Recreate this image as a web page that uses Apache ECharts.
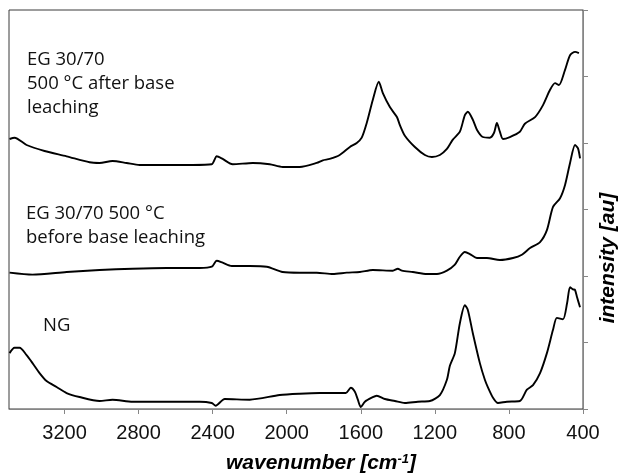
<!DOCTYPE html>
<html>
<head>
<meta charset="utf-8">
<script src="https://cdn.jsdelivr.net/npm/echarts@6/dist/echarts.min.js"></script>
<style>
html,body{margin:0;padding:0;background:#fff;}
#chart{width:619px;height:474px;}
</style>
</head>
<body>
<div id="chart"></div>
<script>
// x tick labels (wavenumber, cm-1)
const xTicks = [400, 800, 1200, 1600, 2000, 2400, 2800, 3200];
// EG 30/70 500 °C after base leaching
const waveA = [3497,3470,3405,3308,3189,3065,3011,2941,2865,2795,2649,2508,2405,2378,2346,2292,2184,2092,2022,1930,1838,1805,1768,1714,1659,1622,1595,1568,1535,1503,1481,1443,1405,1389,1362,1308,1254,1216,1173,1135,1103,1065,1038,1022,995,973,941,903,881,865,849,832,795,741,714,659,616,578,551,530,497,470,443,422];
const intenA = [4.06,4.08,3.97,3.88,3.80,3.71,3.70,3.73,3.70,3.67,3.67,3.67,3.68,3.80,3.76,3.68,3.70,3.68,3.64,3.64,3.70,3.74,3.76,3.82,3.94,4.00,4.08,4.30,4.65,4.92,4.75,4.54,4.39,4.27,4.11,3.94,3.82,3.79,3.82,3.91,4.05,4.17,4.42,4.47,4.35,4.20,4.09,4.08,4.15,4.30,4.17,4.06,4.09,4.17,4.29,4.39,4.57,4.80,4.90,4.87,5.10,5.32,5.37,5.35];
// EG 30/70 500 °C before base leaching
const waveB = [3497,3373,3189,3011,2832,2649,2470,2405,2378,2346,2297,2200,2108,2022,1930,1838,1751,1676,1605,1535,1427,1400,1378,1319,1243,1189,1135,1092,1065,1038,1011,973,919,849,778,730,686,632,595,562,524,497,470,443,427,416];
const intenB = [2.05,2.02,2.06,2.09,2.11,2.12,2.12,2.14,2.23,2.20,2.15,2.15,2.14,2.06,2.05,2.05,2.03,2.05,2.06,2.09,2.08,2.11,2.08,2.06,2.03,2.03,2.08,2.17,2.29,2.36,2.33,2.27,2.27,2.24,2.27,2.32,2.42,2.51,2.69,3.04,3.17,3.37,3.70,3.97,3.92,3.77];
// NG
const waveC = [3497,3470,3443,3405,3373,3335,3297,3243,3189,3119,3011,2941,2832,2649,2470,2405,2384,2335,2200,2038,1930,1822,1724,1681,1654,1632,1616,1600,1578,1541,1514,1470,1416,1362,1292,1227,1173,1135,1119,1092,1065,1038,1022,995,957,930,914,886,859,811,741,703,670,632,595,562,541,508,486,470,454,443,432,416];
const intenC = [0.84,0.92,0.92,0.81,0.69,0.54,0.42,0.33,0.24,0.18,0.12,0.14,0.11,0.11,0.11,0.09,0.05,0.15,0.14,0.21,0.23,0.24,0.24,0.24,0.32,0.26,0.14,0.03,0.11,0.17,0.20,0.15,0.12,0.09,0.11,0.12,0.21,0.44,0.65,0.84,1.29,1.56,1.49,1.14,0.69,0.44,0.33,0.17,0.09,0.11,0.12,0.29,0.36,0.54,0.84,1.19,1.37,1.35,1.59,1.83,1.80,1.79,1.68,1.53];

const labelA = ['EG 30/70', '500 °C after base', 'leaching'];
const labelB = ['EG 30/70 500 °C', 'before base leaching'];
const labelC = ['NG'];

function pairs(xs, ys){ return xs.map((x,i)=>[x, ys[i]]); }

const chart = echarts.init(document.getElementById('chart'), null, {renderer:'canvas'});
const lineSeries = (name, xs, ys) => ({
  name, type:'line', data: pairs(xs, ys), smooth: 0.25, symbol:'none',
  lineStyle:{color:'#000', width:1.9}, silent:true, animation:false
});
const annFont = {fontFamily:'Open Sans', fontSize:18.5, fill:'#111', lineHeight:24};
chart.setOption({
  animation:false,
  grid:{left:9, right:36, top:10, bottom:65, outerBoundsMode:'none', containLabel:false,
    show:true, borderColor:'#3a3a3a', borderWidth:1},
  xAxis:{
    type:'value', inverse:true, min:400, max:3500, interval:400,
    axisLine:{lineStyle:{color:'#868686', width:1}},
    axisTick:{show:true, length:5, lineStyle:{color:'#868686'}, customValues:xTicks},
    axisLabel:{fontFamily:'Liberation Sans, Arial', fontSize:20, color:'#111', margin:14, customValues:xTicks,
      formatter:(v)=>String(v)},
    splitLine:{show:false},
    name:'{a|wavenumber [cm}{s|-1}{a|]}',
    nameLocation:'middle', nameGap:44,
    nameTextStyle:{
      padding:[0,0,0,50],
      rich:{
        a:{fontFamily:'Liberation Sans, Arial', fontSize:21, fontWeight:'bold', fontStyle:'italic', color:'#000'},
        s:{fontFamily:'Liberation Sans, Arial', fontSize:13, fontWeight:'bold', fontStyle:'italic', color:'#000', verticalAlign:'top', padding:[0,0,8,0]}
      }
    }
  },
  yAxis:{
    type:'value', position:'right', min:0, max:6, interval:1,
    axisLine:{show:true, lineStyle:{color:'#868686', width:1}},
    axisTick:{show:true, inside:false, length:5, lineStyle:{color:'#868686'}},
    axisLabel:{show:false},
    splitLine:{show:false}
  },
  graphic:[
    {type:'text', left:27, top:48, style:Object.assign({text:labelA.join('\n')}, annFont)},
    {type:'text', left:26, top:202, style:Object.assign({text:labelB.join('\n')}, annFont)},
    {type:'text', left:43, top:314, style:Object.assign({text:labelC.join('\n')}, annFont)},
    {type:'text', x:608, y:258, rotation:Math.PI/2,
      style:{text:'intensity [au]', fontFamily:'Liberation Sans, Arial', fontSize:21, fontWeight:'bold', fontStyle:'italic', fill:'#000', align:'center', verticalAlign:'middle'}}
  ],
  series:[
    lineSeries('after', waveA, intenA),
    lineSeries('before', waveB, intenB),
    lineSeries('NG', waveC, intenC)
  ]
});
</script>
</body>
</html>
